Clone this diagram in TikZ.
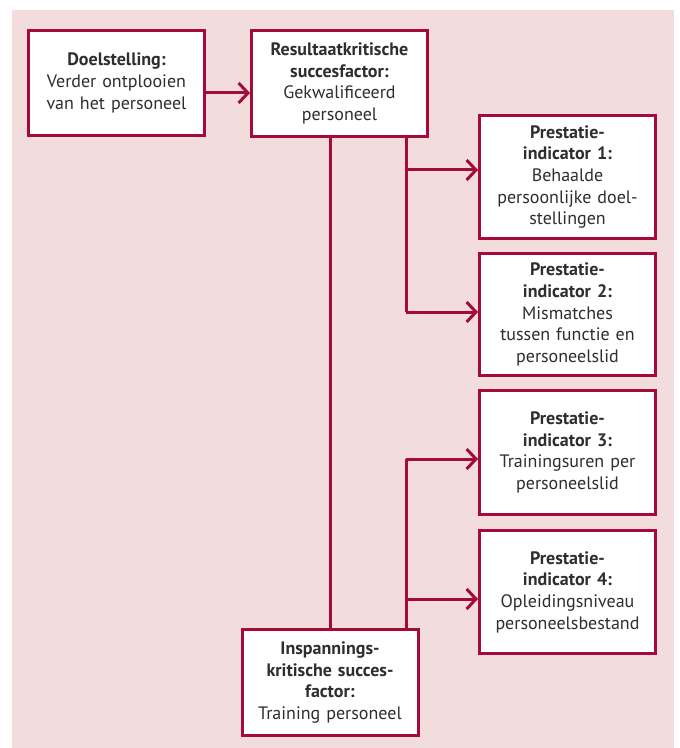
\documentclass[tikz,border=0pt]{standalone}
\usepackage{fontspec}
\setmainfont{PT Sans}
\usetikzlibrary{arrows.meta,positioning,calc}
\definecolor{kred}{HTML}{A50A3C}
\definecolor{kpink}{HTML}{F2DCDC}
\definecolor{ktext}{HTML}{2E2E2E}
\tikzset{
  bx/.style   = {draw=kred, line width=2.25pt, fill=white, text=ktext,
                 minimum width=132pt, text width=130pt, align=center,
                 inner sep=0pt, font=\fontsize{13.5}{16.2}\selectfont},
  ln/.style   = {draw=kred, line width=2.25pt},
  arr/.style  = {ln, -{Straight Barb[length=7pt,width=15pt,line width=2.25pt]}},
}

\begin{document}
\begin{tikzpicture}[x=0.75pt,y=-0.75pt]
  \useasboundingbox (0,0) rectangle (679,748);
  \fill[kpink] (12,10) rectangle (674,748);
  % boxes
  \node[bx, minimum height=78.75pt] (doel) at (116.5,83)
    {\textbf{Doelstelling:}\\Verder ontplooien\\van het personeel};
  \node[bx, minimum height=79.5pt] (res) at (339.5,83.5)
    {\textbf{Resultaatkritische}\\\textbf{succesfactor:}\\Gekwalificeerd\\personeel};
  \node[bx, minimum height=92.25pt] (pi1) at (567.5,177)
    {\textbf{Prestatie-}\\\textbf{indicator 1:}\\Behaalde\\persoonlijke doel-\\stellingen};
  \node[bx, minimum height=91.5pt] (pi2) at (567.5,314.5)
    {\textbf{Prestatie-}\\\textbf{indicator 2:}\\Mismatches\\tussen functie en\\personeelslid};
  \node[bx, minimum height=93pt] (pi3) at (567.5,452.5)
    {\textbf{Prestatie-}\\\textbf{indicator 3:}\\Trainingsuren per\\personeelslid};
  \node[bx, minimum height=92.25pt] (pi4) at (567.5,592)
    {\textbf{Prestatie-}\\\textbf{indicator 4:}\\Opleidingsniveau\\personeelsbestand};
  \node[bx, minimum height=79.5pt] (insp) at (330,682.5)
    {\textbf{Inspannings-}\\\textbf{kritische succes-}\\\textbf{factor:}\\Training personeel};
  % branch points
  \coordinate (a0) at (0,93);
  \coordinate (up) at (406,0);
  \coordinate (b1) at (406,170);
  \coordinate (b2) at (406,312);
  \coordinate (b3) at (406,459);
  \coordinate (b4) at (406,599);
  % connectors
  \draw[arr] (doel.east |- a0) -- (res.west |- a0);
  \draw[ln] (res.south -| insp.north) -- (insp.north);
  \draw[ln] (res.south -| up) -- (b2);
  \draw[arr] (b1) -- (b1 -| pi1.west);
  \draw[arr] (b2) -- (b2 -| pi2.west);
  \draw[ln] (insp.north -| up) -- (b3);
  \draw[arr] (b3) -- (b3 -| pi3.west);
  \draw[arr] (b4) -- (b4 -| pi4.west);
\end{tikzpicture}
\end{document}
